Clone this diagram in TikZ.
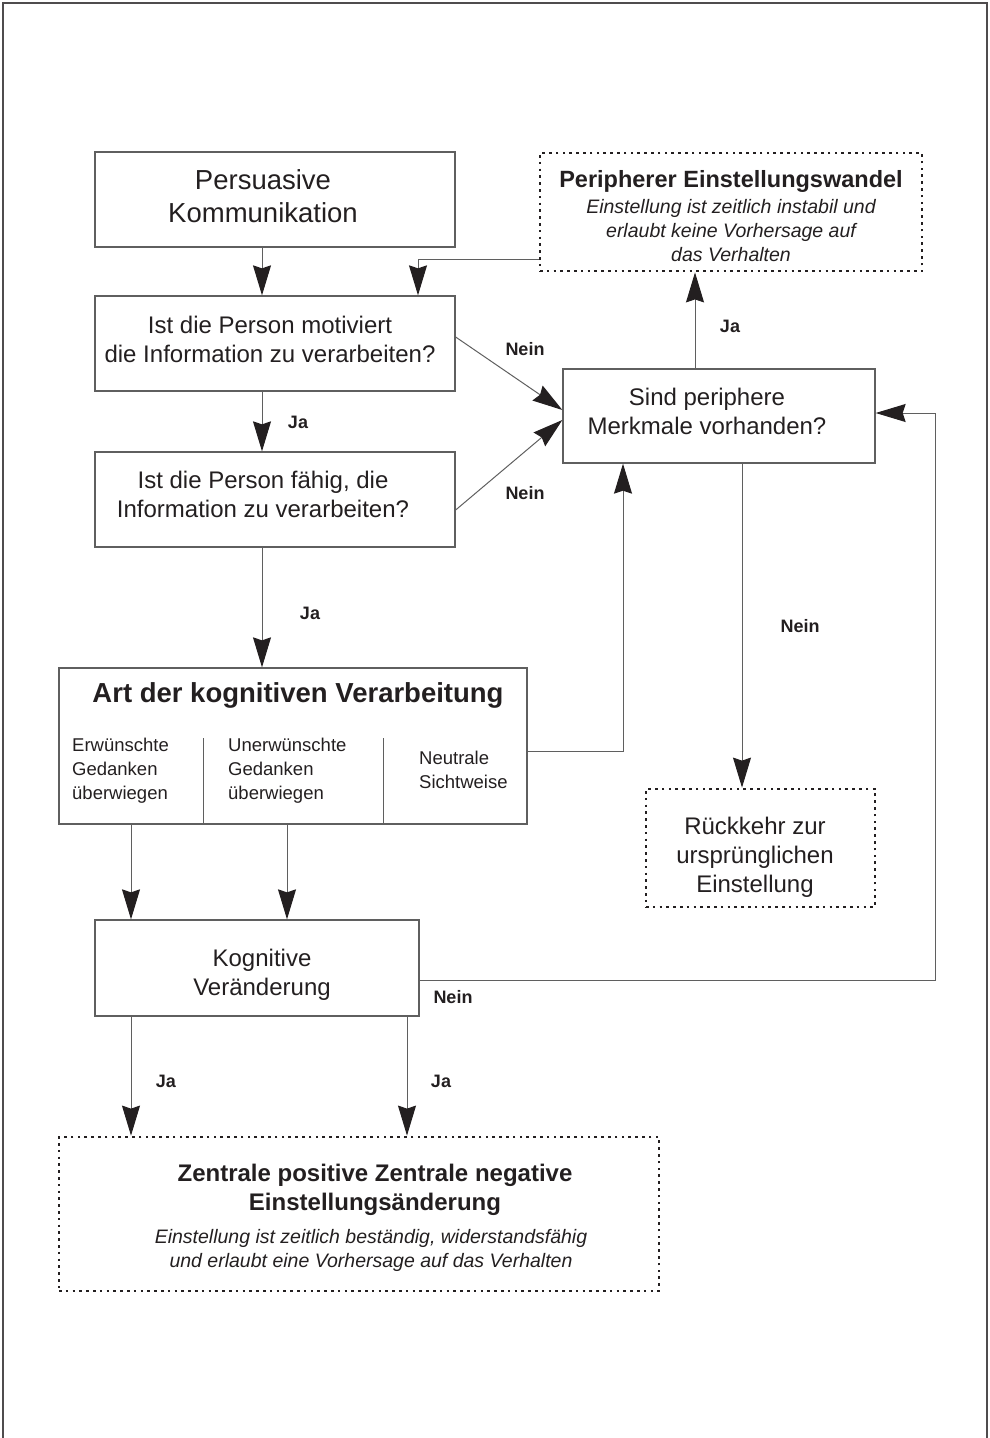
\documentclass[tikz,border=0pt]{standalone}
\usepackage{fontspec}
\setmainfont{Liberation Sans}
\usetikzlibrary{arrows.meta}
\definecolor{ln}{RGB}{95,95,95}
\definecolor{tx}{RGB}{35,31,32}
\begin{document}
\begin{tikzpicture}[x=1pt,y=-1pt,
  box/.style={draw=ln,line width=1.3pt,rectangle,inner sep=0pt},
  dotbox/.style={draw=tx,line width=2.8pt,dash pattern=on 2.6pt off 4.2pt,rectangle,inner sep=0pt},
  txt/.style={text=tx,align=center,inner sep=0pt},
  lbl/.style={text=tx,inner sep=0pt,font=\fontsize{18}{20}\selectfont\bfseries},
  arr/.style={draw=ln,line width=1pt,-{Stealth[length=30pt,width=18pt,inset=3pt,color=tx]}},
  ln1/.style={draw=ln,line width=1pt}]
\useasboundingbox (0,0) rectangle (989,1438);
\draw[draw=tx!80,line width=1.6pt] (3,1445) -- (3,3) -- (987,3) -- (987,1445);

% boxes
\node[box,minimum width=360pt,minimum height=95pt] (A) at (275,199.5) {};
\node[box,minimum width=360pt,minimum height=95pt] (B) at (275,343.5) {};
\node[box,minimum width=360pt,minimum height=95pt] (C) at (275,499.5) {};
\node[box,minimum width=468pt,minimum height=156pt] (D) at (293,746) {};
\node[box,minimum width=324pt,minimum height=96pt] (E) at (257,968) {};
\node[dotbox,minimum width=600pt,minimum height=154pt] (F) at (359,1214) {};
\node[box,minimum width=312pt,minimum height=94pt] (G) at (719,416) {};
\node[dotbox,minimum width=382pt,minimum height=118pt] (H) at (731,212) {};
\node[dotbox,minimum width=229pt,minimum height=118pt] (I) at (760.5,848) {};

% texts
\node[txt,font=\fontsize{27.5}{33}\selectfont] (tA) at (263,196) {Persuasive\\Kommunikation};
\node[txt,font=\fontsize{24}{29}\selectfont] (tB) at (270,339) {Ist die Person motiviert\\die Information zu verarbeiten?};
\node[txt,font=\fontsize{24}{29}\selectfont] (tC) at (263,494) {Ist die Person fähig, die\\Information zu verarbeiten?};
\node[txt,font=\fontsize{27.5}{33}\selectfont\bfseries] (tD) at (298,695) {Art der kognitiven Verarbeitung};
\node[txt,anchor=base west,align=left,font=\fontsize{18.5}{24}\selectfont] (tD1) at (72,799) {Erwünschte\\Gedanken\\überwiegen};
\node[txt,anchor=base west,align=left,font=\fontsize{18.5}{24}\selectfont] (tD2) at (228,799) {Unerwünschte\\Gedanken\\überwiegen};
\node[txt,anchor=base west,align=left,font=\fontsize{18.5}{24}\selectfont] (tD3) at (419,788) {Neutrale\\Sichtweise};
\node[txt,font=\fontsize{24}{29}\selectfont] (tE) at (262,975) {Kognitive\\Veränderung};
\node[txt,font=\fontsize{24}{29}\selectfont\bfseries] (tF1) at (375,1190) {Zentrale positive Zentrale negative\\Einstellungsänderung};
\node[txt,font=\fontsize{19.5}{24}\selectfont\itshape] (tF2) at (371,1250) {Einstellung ist zeitlich beständig, widerstandsfähig\\und erlaubt eine Vorhersage auf das Verhalten};
\node[txt,font=\fontsize{24}{29}\selectfont] (tG) at (707,411) {Sind periphere\\Merkmale vorhanden?};
\node[txt,font=\fontsize{23.5}{28}\selectfont\bfseries] (tH1) at (731,181) {Peripherer Einstellungswandel};
\node[txt,font=\fontsize{19.5}{24}\selectfont\itshape] (tH2) at (731,231) {Einstellung ist zeitlich instabil und\\erlaubt keine Vorhersage auf\\das Verhalten};
\node[txt,font=\fontsize{24}{29}\selectfont] (tI) at (755,857) {Rückkehr zur\\ursprünglichen\\Einstellung};

% dividers in D
\coordinate (d1) at (203,738);
\coordinate (d2) at (383,738);
\draw[ln1] (d1) -- (d1 |- D.south);
\draw[ln1] (d2) -- (d2 |- D.south);

% helper x positions
\coordinate (xa) at (262,0);
\coordinate (xdg) at (623,0);
\coordinate (xgh) at (695,0);
\coordinate (xhb) at (418,0);
\coordinate (xgi) at (742,0);
\coordinate (xde1) at (131,0);
\coordinate (xde2) at (287,0);
\coordinate (xeg) at (935,0);
\coordinate (xef2) at (407,0);

% connectors
\draw[arr] (A.south -| xa) -- (B.north -| xa);
\draw[arr] (B.south -| xa) -- (C.north -| xa);
\draw[arr] (C.south -| xa) -- (D.north -| xa);
\draw[arr] ([yshift=6.5pt]B.east) -- ([yshift=6pt]G.west);
\draw[arr] ([yshift=-10.5pt]C.east) -- ([yshift=-4pt]G.west);
\draw[arr] ([yshift=-5pt]D.east) -| (G.south -| xdg);
\draw[arr] (G.north -| xgh) -- (H.south -| xgh);
\draw[arr] ([yshift=-47pt]H.west) -| (B.north -| xhb);
\draw[arr] (G.south -| xgi) -- (I.north -| xgi);
\draw[arr] (D.south -| xde1) -- (E.north -| xde1);
\draw[arr] (D.south -| xde2) -- (E.north -| xde2);
\coordinate (eR) at ([yshift=-12pt]E.east);
\coordinate (gR) at ([yshift=3pt]G.east);
\draw[arr] (eR) -- (eR -| xeg) |- (gR);
\draw[arr] (E.south -| xde1) -- (F.north -| xde1);
\draw[arr] (E.south -| xef2) -- (F.north -| xef2);

% labels
\node[lbl] (n1) at (525,349) {Nein};
\node[lbl] (n2) at (525,493) {Nein};
\node[lbl] (n3) at (800,626) {Nein};
\node[lbl] (n4) at (453,997) {Nein};
\node[lbl] (j1) at (298,422) {Ja};
\node[lbl] (j2) at (310,613) {Ja};
\node[lbl] (j3) at (730,326) {Ja};
\node[lbl] (j4) at (166,1081) {Ja};
\node[lbl] (j5) at (441,1081) {Ja};
\end{tikzpicture}
\end{document}
